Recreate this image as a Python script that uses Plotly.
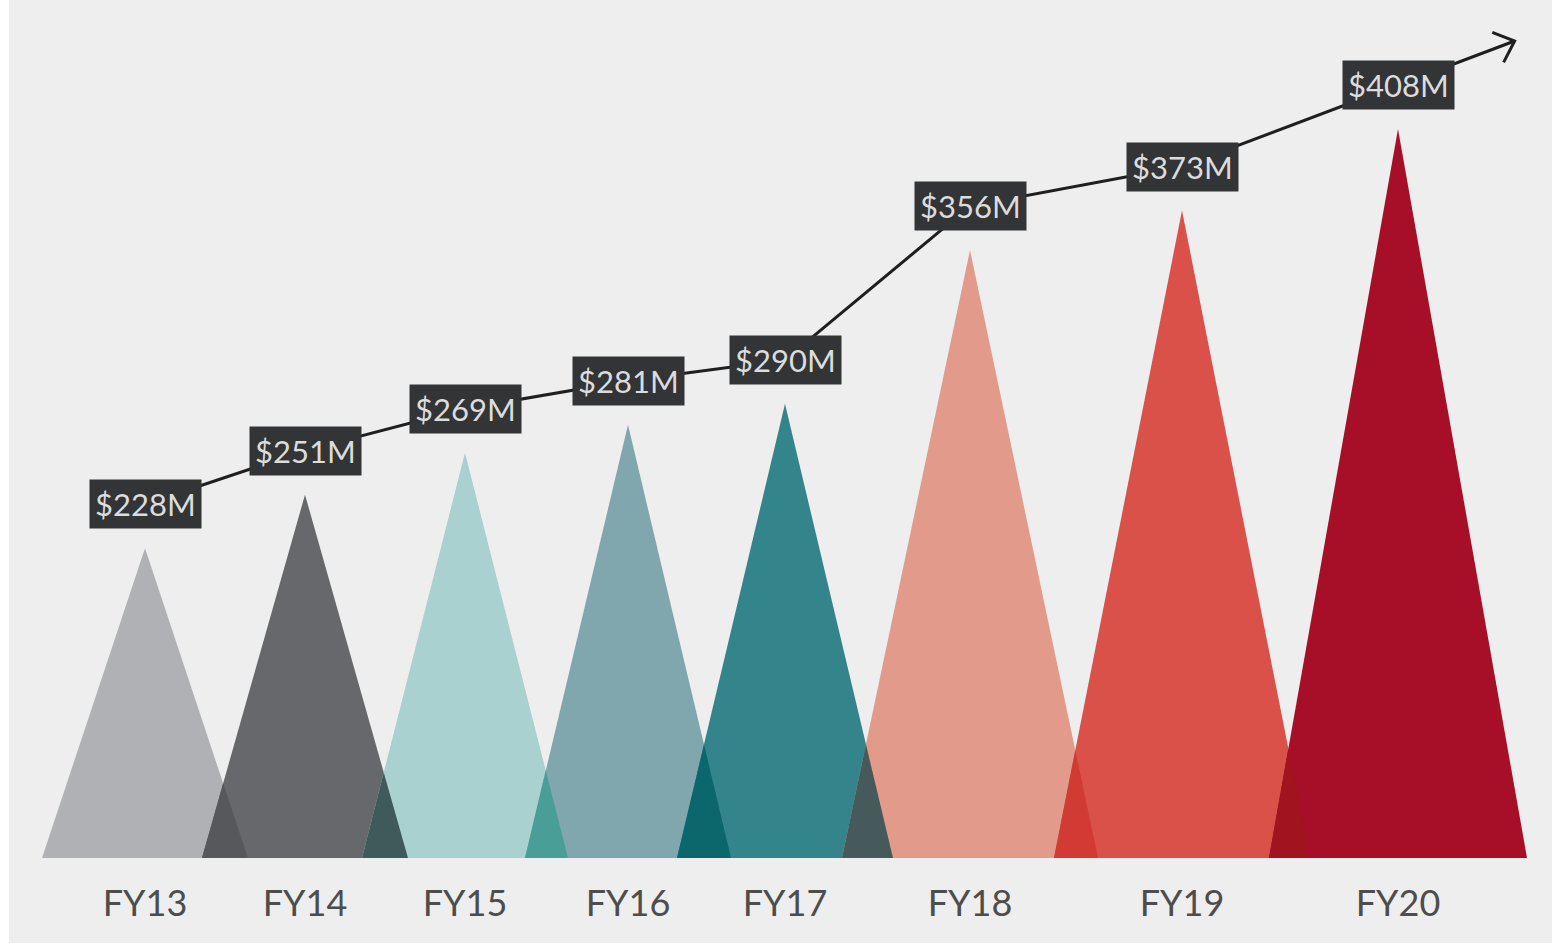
import numpy as np
import plotly.graph_objects as go

# ---------------- data ----------------
years = ["FY13", "FY14", "FY15", "FY16", "FY17", "FY18", "FY19", "FY20"]
revenue_musd = [228, 251, 269, 281, 290, 356, 373, 408]
labels = ["$228M", "$251M", "$269M", "$281M", "$290M", "$356M", "$373M", "$408M"]

# ---------------- layout / style (not data) ----------------
x_center = [145, 305, 465, 628, 785, 970, 1182, 1398]     # horizontal slot of each peak
half_width = [103, 103, 103, 103, 108, 128, 128, 129]     # half base width of each peak
fill_colors = ["#b0b1b5", "#67686c", "#a8d1cf", "#80a7ad",
               "#33848b", "#e29b8a", "#d95149", "#a60f27"]
overlap_colors = ["#57585c", "#3f5a5a", "#4a9e98", "#0b676b",
                  "#465a5c", "#d13b33", "#a0131f"]

W, H = 1552, 947
M_L, M_R, M_T, M_B = 9, 0, 0, 4
BASE = 95.0                 # value at which the peaks sit
Y_RANGE = [58.5, 463.4]
X_RANGE = [M_L, W - M_R]
PLOT_H = H - M_T - M_B
PX_PER_UNIT = PLOT_H / (Y_RANGE[1] - Y_RANGE[0])
LABEL_OFFSET = 44 / PX_PER_UNIT   # label centre sits 44px above the peak
FONT = "Lato"

fig = go.Figure()

# peaks
for xc, hw, v, c in zip(x_center, half_width, revenue_musd, fill_colors):
    fig.add_trace(go.Scatter(
        x=[xc - hw, xc, xc + hw, xc - hw],
        y=[BASE, v, BASE, BASE],
        mode="lines", fill="toself", fillcolor=c,
        line=dict(width=0, color=c), hoverinfo="skip", showlegend=False))

# overlap (multiply-like) regions between neighbouring peaks
for i in range(len(years) - 1):
    xa, ha, va = x_center[i], half_width[i], revenue_musd[i]
    xb, hb, vb = x_center[i + 1], half_width[i + 1], revenue_musd[i + 1]
    A = np.array([[ha, -hb], [-(va - BASE), -(vb - BASE)]])
    rhs = np.array([xb - hb - xa, BASE - va])
    t, s = np.linalg.solve(A, rhs)
    ix, iy = xa + ha * t, va - (va - BASE) * t
    fig.add_trace(go.Scatter(
        x=[xb - hb, ix, xa + ha, xb - hb],
        y=[BASE, iy, BASE, BASE],
        mode="lines", fill="toself", fillcolor=overlap_colors[i],
        line=dict(width=0, color=overlap_colors[i]), hoverinfo="skip", showlegend=False))

# connecting line through labels, extended into an arrow
ly = [v + LABEL_OFFSET for v in revenue_musd]
ext = 0.54
tip_x = x_center[-1] + ext * (x_center[-1] - x_center[-2])
tip_y = ly[-1] + ext * (ly[-1] - ly[-2])
fig.add_trace(go.Scatter(
    x=list(x_center) + [tip_x], y=ly + [tip_y], mode="lines",
    line=dict(color="#1f1f1f", width=3), hoverinfo="skip", showlegend=False))

# chevron head (computed in pixel space)
dx = tip_x - x_center[-1]
dy = (tip_y - ly[-1]) * PX_PER_UNIT
n = np.hypot(dx, dy)
ux, uy = dx / n, dy / n
arm, ang = 24, np.radians(42)
pts = []
for sgn in (1, -1):
    c, s_ = np.cos(sgn * ang), np.sin(sgn * ang)
    rx, ry = ux * c - uy * s_, ux * s_ + uy * c
    pts.append((tip_x - arm * rx, tip_y - arm * ry / PX_PER_UNIT))
fig.add_trace(go.Scatter(
    x=[pts[0][0], tip_x, pts[1][0]], y=[pts[0][1], tip_y, pts[1][1]],
    mode="lines", line=dict(color="#1f1f1f", width=3),
    hoverinfo="skip", showlegend=False))

# value labels
for xc, y, t in zip(x_center, ly, labels):
    fig.add_annotation(x=xc, y=y, xref="x", yref="y", text=t, showarrow=False,
                       font=dict(family=FONT, size=31, color="#dcdcdc"),
                       bgcolor="#333436", borderpad=5)

fig.update_layout(
    width=W, height=H,
    margin=dict(l=M_L, r=M_R, t=M_T, b=M_B),
    paper_bgcolor="#ffffff", plot_bgcolor="#eeeeee",
    xaxis=dict(range=X_RANGE, showgrid=False, zeroline=False, showline=False,
               tickvals=x_center, ticktext=years, ticks="",
               tickfont=dict(family=FONT, size=36, color="#4d4d4d"),
               anchor="free", position=1 - 879 / PLOT_H, fixedrange=True),
    yaxis=dict(range=Y_RANGE, showgrid=False, zeroline=False, showline=False,
               showticklabels=False, fixedrange=True),
    showlegend=False,
    hovermode=False,
)

fig.write_html("out.html", config={"displayModeBar": False},
               post_script="document.body.style.margin='0px';")
